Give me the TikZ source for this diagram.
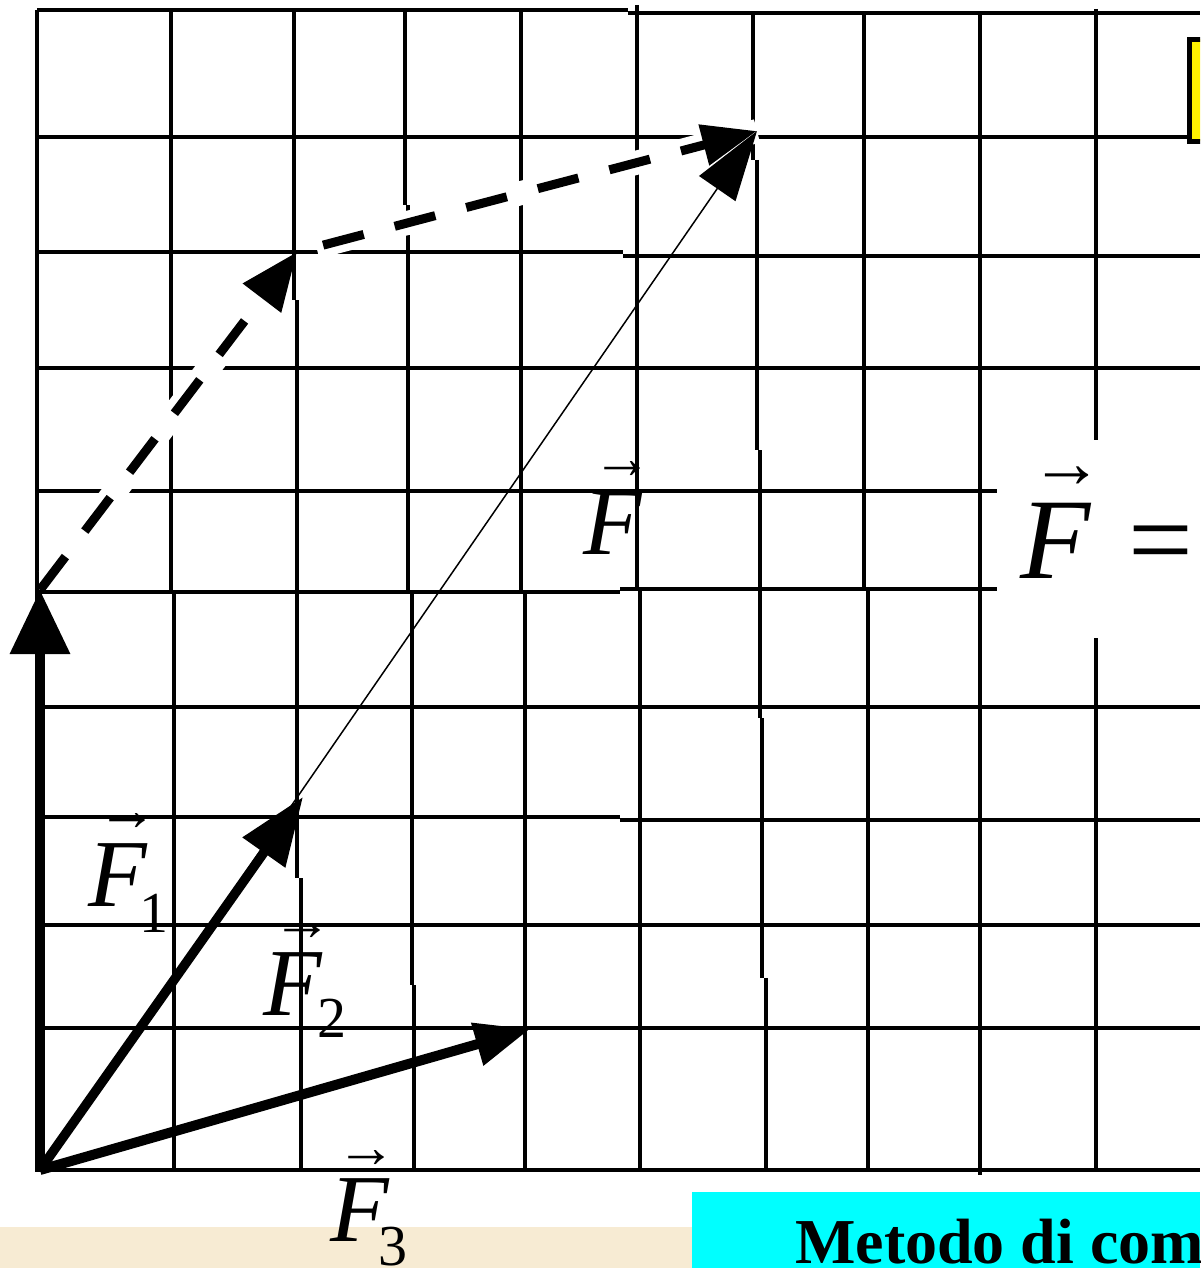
\documentclass[tikz,border=0pt]{standalone}
\usepackage{fontspec}
\setmainfont{Liberation Serif}
\usetikzlibrary{arrows.meta}
\definecolor{beige}{HTML}{F7EBD3}
\definecolor{cyanbox}{HTML}{00FFFF}
\tikzset{
  gridl/.style={line width=3.5pt},
  halo/.style={white, line width=24pt},
  vecthick/.style={line width=10pt},
  vecdash/.style={line width=9pt, dash pattern=on 42pt off 32pt},
  vecthin/.style={line width=1.5pt},
  lbl/.style={inner sep=0pt, anchor=base west, font=\fontsize{96}{96}\selectfont\itshape},
  sublbl/.style={inner sep=0pt, anchor=base west, font=\fontsize{58}{58}\selectfont},
  arrlbl/.style={inner sep=0pt, anchor=center, font=\fontsize{60}{60}\selectfont},
}
\begin{document}
\begin{tikzpicture}[x=1pt,y=-1pt]
\useasboundingbox (0,0) rectangle (1200,1268);
\clip (0,0) rectangle (1200,1268);
\fill[white] (0,0) rectangle (1200,1268);
% bottom bands
\fill[beige] (0,1227) rectangle (692,1268);
\fill[cyanbox] (692,1192) rectangle (1200,1268);
% grid: vertical
\foreach \xa/\ya/\xb/\yb in {
  37/10/37/1172,
  171/10/171/590, 174/590/174/1170,
  294/10/294/300, 297/300/297/878, 301/878/301/1170,
  405/10/405/205, 408/205/408/592, 412/592/412/985, 414/985/414/1170,
  521/10/521/592, 525/592/525/1170,
  637/5/637/589, 640/589/640/1170,
  753/13/753/160, 757/160/757/450, 760/450/760/718, 762/718/762/978, 766/978/766/1170,
  864/13/864/589, 868/589/868/1170,
  980/13/980/1175,
  1096/9/1096/1170}
  \draw[gridl] (\xa,\ya) -- (\xb,\yb);
% grid: horizontal
\foreach \xa/\ya/\xb/\yb in {
  37/10/628/10, 628/13/1200/13,
  37/137/1200/137,
  37/252/623/252, 623/256/1200/256,
  37/368/1200/368,
  37/491/997/491,
  37/592/620/592, 620/589/997/589,
  37/707/1200/707,
  37/817/620/817, 620/820/1200/820,
  37/925/1200/925,
  37/1028/1200/1028,
  37/1170/1200/1170}
  \draw[gridl] (\xa,\ya) -- (\xb,\yb);
% yellow box (cut at right edge)
\draw[line width=5pt, fill=yellow] (1189.5,39.5) rectangle (1215,141.5);
% white panel behind F =
\fill[white] (997,440) rectangle (1200,638);
% points
\coordinate (O) at (40,1170);
\coordinate (A) at (40,590);
\coordinate (B) at (303,797);
\coordinate (C) at (530,1029);
\coordinate (P) at (297,252);
\coordinate (R) at (757,131);
% halos of the dashed vectors
\draw[halo, shorten <=14pt, shorten >=30pt] (A) -- (P);
\draw[halo, shorten <=20pt] (P) -- (R);
% resultant
\draw[vecthin, -{Triangle[length=70pt,width=44pt]}] (O) -- (R);
% dashed moved vectors
\draw[vecdash, -{Triangle[length=58pt,width=46pt]}] (A) -- (P);
\draw[vecdash, dash phase=47pt, -{Triangle[length=55pt,width=40pt]}] (P) -- (R);
% F1, F2, F3
\draw[vecthick, -{Triangle[length=64pt,width=58pt]}] (O) -- (A);
\draw[line width=9.5pt, -{Triangle[length=68pt,width=50pt]}] (O) -- (B);
\draw[vecthick, -{Triangle[length=55pt,width=42pt]}] (O) -- (C);
% labels
\node[lbl] (f1) at (88,906) {F};
\node[sublbl] (f1s) at (139,932) {1};
\node[arrlbl] (f1a) at (127,822) {→};
\node[lbl] (f2) at (263,1015) {F};
\node[sublbl] (f2s) at (317,1037) {2};
\node[arrlbl] (f2a) at (302,932) {→};
\node[lbl] (f3) at (330,1241) {F};
\node[sublbl] (f3s) at (378,1265) {3};
\node[arrlbl] (f3a) at (366,1159) {→};
\node[lbl] (fr) at (583,554) {F};
\node[arrlbl] (fra) at (622,470) {→};
% F = on the right
\node[inner sep=0pt, anchor=base west, font=\fontsize{115}{115}\selectfont\itshape] (fe) at (1020,578) {F};
\node[inner sep=0pt, anchor=center, font=\fontsize{73}{73}\selectfont] (fea) at (1067,477) {→};
\node[inner sep=0pt, anchor=base west, font=\fontsize{115}{115}\selectfont] (eq) at (1128,578) {=};
% bottom title
\node[inner sep=0pt, anchor=base west, font=\fontsize{64}{64}\selectfont\bfseries] (title) at (795,1263) {Metodo di com};
\end{tikzpicture}
\end{document}
